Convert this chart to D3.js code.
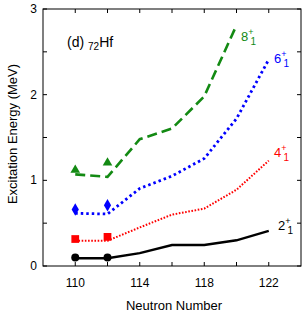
<!DOCTYPE html>
<html>
<head>
<meta charset="utf-8">
<script src="https://cdn.jsdelivr.net/npm/d3@7.9.0/dist/d3.min.js"></script>
<style>
  body { margin: 0; background: #fff; }
  svg { display: block; font-family: "Liberation Sans", Arial, sans-serif; }
</style>
</head>
<body>
<svg width="305" height="318"></svg>
<script>
const neutrons = [110, 112, 114, 116, 118, 120, 122];
const e2 = [0.09, 0.09, 0.15, 0.245, 0.245, 0.30, 0.41];
const e4 = [0.295, 0.295, 0.45, 0.60, 0.67, 0.89, 1.23];
const e6 = [0.615, 0.607, 0.905, 1.05, 1.255, 1.72, 2.41];
const e8 = [1.07, 1.04, 1.48, 1.605, 1.98, 2.81];
const expN = [110, 112];
const exp2 = [0.1, 0.1];
const exp4 = [0.315, 0.34];
const exp6 = [0.66, 0.71];
const exp8 = [1.12, 1.205];
const xTicks = [110, 112, 114, 116, 118, 120, 122];
const xLabels = [110, 114, 118, 122];
const yTicks = [0, 0.5, 1, 1.5, 2, 2.5, 3];
const yLabels = [0, 1, 2, 3];

const svg = d3.select('svg');
const x = d3.scaleLinear().domain([108, 124]).range([43, 301]);
const y = d3.scaleLinear().domain([0, 3]).range([266, 9]);

// frame
svg.append('rect')
  .attr('x', x(108)).attr('y', y(3))
  .attr('width', x(124) - x(108)).attr('height', y(0) - y(3))
  .attr('fill', 'none').attr('stroke', '#000').attr('stroke-width', 1);

// inward ticks
const tl = 4;
xTicks.forEach(t => {
  svg.append('line').attr('x1', x(t)).attr('x2', x(t)).attr('y1', y(0)).attr('y2', y(0) - tl).attr('stroke', '#000');
  svg.append('line').attr('x1', x(t)).attr('x2', x(t)).attr('y1', y(3)).attr('y2', y(3) + tl).attr('stroke', '#000');
});
yTicks.forEach(t => {
  svg.append('line').attr('x1', x(108)).attr('x2', x(108) + tl).attr('y1', y(t)).attr('y2', y(t)).attr('stroke', '#000');
  svg.append('line').attr('x1', x(124)).attr('x2', x(124) - tl).attr('y1', y(t)).attr('y2', y(t)).attr('stroke', '#000');
});

svg.selectAll('.xl').data(xLabels).join('text')
  .attr('x', d => x(d)).attr('y', 287)
  .attr('text-anchor', 'middle').attr('font-size', 12).text(d => d);
svg.selectAll('.yl').data(yLabels).join('text')
  .attr('x', 37).attr('y', d => y(d) + 4)
  .attr('text-anchor', 'end').attr('font-size', 12).text(d => d);

svg.append('text').attr('x', 174).attr('y', 310)
  .attr('text-anchor', 'middle').attr('font-size', 13).text('Neutron Number');
svg.append('text').attr('transform', 'translate(17,134) rotate(-90)')
  .attr('text-anchor', 'middle').attr('font-size', 13).text('Excitation Energy (MeV)');

// panel title
const title = svg.append('text').attr('x', 67).attr('y', 47).attr('font-size', 14);
title.append('tspan').text('(d) ');
title.append('tspan').attr('font-size', 10).attr('dy', 3).text('72');
title.append('tspan').attr('dy', -3).text('Hf');

const line = d3.line().x(d => x(d[0])).y(d => y(d[1]));
const series = [
  { vals: e2, color: '#000000', dash: null, width: 2.4 },
  { vals: e4, color: '#ff0000', dash: '1.6,1.6', width: 2 },
  { vals: e6, color: '#0000ff', dash: '2.5,3', width: 2.8 },
  { vals: e8, color: '#138a13', dash: '10,5', width: 2.6 }
];
series.forEach(s => {
  svg.append('path')
    .attr('d', line(s.vals.map((v, i) => [neutrons[i], v])))
    .attr('fill', 'none').attr('stroke', s.color)
    .attr('stroke-width', s.width)
    .attr('stroke-dasharray', s.dash);
});

// experimental markers
const sym = [
  { vals: exp2, type: d3.symbolCircle, size: 50, color: '#000000' },
  { vals: exp4, type: d3.symbolSquare, size: 60, color: '#ff0000' },
  { vals: exp6, type: d3.symbolDiamond, size: 45, color: '#0000ff' },
  { vals: exp8, type: d3.symbolTriangle, size: 40, color: '#138a13' }
];
sym.forEach(s => {
  s.vals.forEach((v, i) => {
    svg.append('path')
      .attr('d', d3.symbol().type(s.type).size(s.size)())
      .attr('transform', `translate(${x(expN[i])},${y(v)})`)
      .attr('fill', s.color);
  });
});

// state labels
const labels = [
  { n: '8', x: 241, y: 41, color: '#138a13' },
  { n: '6', x: 274, y: 63, color: '#0000ff' },
  { n: '4', x: 274, y: 157, color: '#ff0000' },
  { n: '2', x: 278, y: 230, color: '#000000' }
];
labels.forEach(l => {
  const t = svg.append('text').attr('x', l.x).attr('y', l.y)
    .attr('font-size', 13).attr('fill', l.color);
  t.append('tspan').text(l.n);
  t.append('tspan').attr('font-size', 9).attr('dy', -6).text('+');
  t.append('tspan').attr('font-size', 10).attr('dx', -3).attr('dy', 10).text('1');
});
</script>
</body>
</html>
